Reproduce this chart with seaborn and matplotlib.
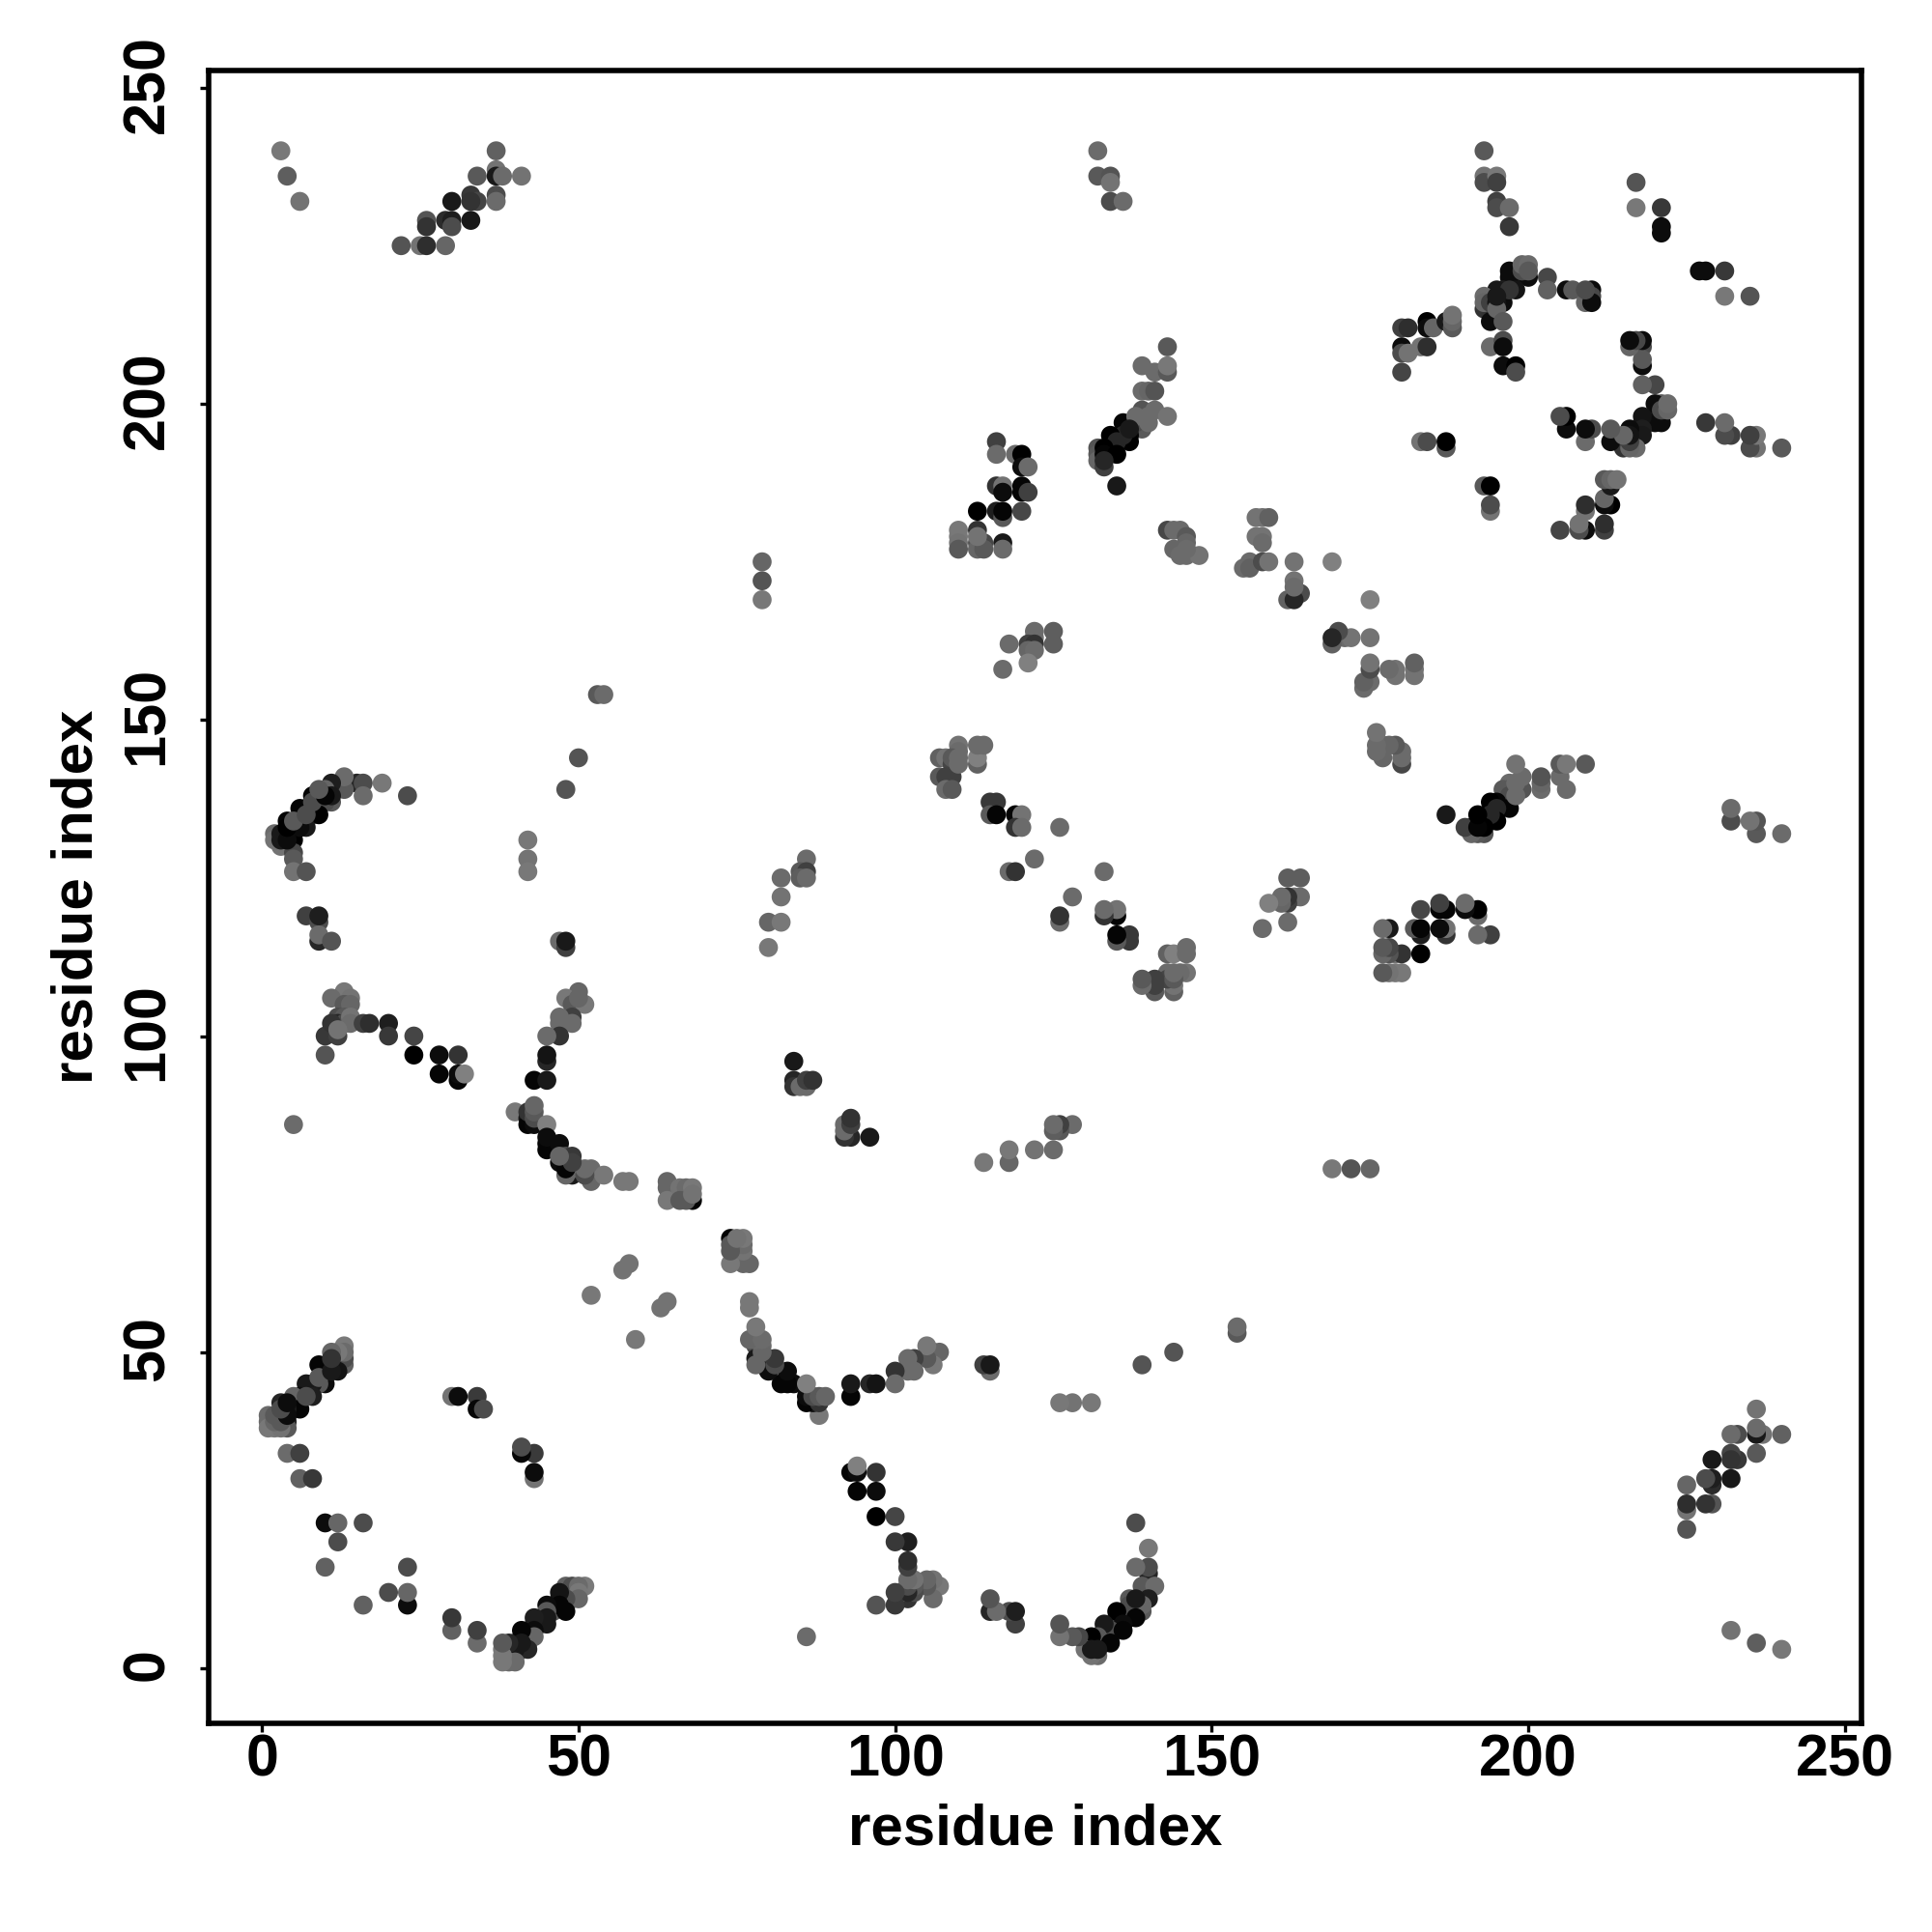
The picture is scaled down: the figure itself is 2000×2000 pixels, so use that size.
import numpy as np
import pandas as pd
import seaborn as sns
import matplotlib
matplotlib.use("Agg")
import matplotlib.pyplot as plt
from matplotlib.transforms import ScaledTranslation

# contacts: (residue i, residue j, grey score 0=black .. 0.5=mid grey)
far_top_left = [(3,240,.47),(4,236,.37),(6,232,.45),(37,240,.38),(34,236,.35),(37,237,.45),(37,236,.1),(38,236,.42),(41,236,.45),
    (37,233,.3),(37,232,.42),(33,233,.22),(34,232,.27),(33,232,.2),(30,232,.1),(26,229,.33),(26,228,.2),(29,229,.17),(30,229,.12),
    (30,228,.3),(33,229,.1),(22,225,.33),(25,225,.45),(26,225,.18),(29,225,.4),(79,175,.4),(79,172,.33),(79,169,.47)]
top_mid_a = [(132,240,.42),(132,236,.35),(134,236,.33),(134,235,.45),(134,232,.3),(136,232,.42)]
helix_135_200 = [(143,209,.35),(139,206,.42),(141,205,.42),(143,205,.35),(143,206,.47),(139,202,.42),(140,202,.4),(141,202,.33),
    (139,197,.15),(139,196,.35),(138,197,.3),(136,197,.02),(137,195,.02),(137,194,.0),(136,195,.15),(134,195,.0),(135,194,.15),
    (132,193,.33),(132,192,.35),(132,191,.4),(133,190,.25),(133,193,.0),(133,192,.02),(135,192,.0),(135,187,.1),
    (139,199,.33),(138,198,.42),(140,198,.42),(141,199,.42),(143,198,.45)]
block_116_190 = [(116,194,.25),(116,192,.42),(119,192,.42),(120,192,.0),(120,190,.05),(121,190,.42),(116,187,.2),(117,187,.45),
    (117,186,.05),(120,187,.02),(120,186,.02),(121,186,.25),(113,183,.0),(116,183,.12),(117,182,.35),(117,183,.02),(120,183,.28),
    (110,180,.47),(110,179,.47),(110,178,.45),(110,177,.35),(113,180,.2),(113,178,.33),(113,177,.4),(114,178,.28),(114,177,.35),
    (117,178,.1),(117,177,.42)]
block_145_178 = [(143,180,.28),(144,180,.42),(145,180,.42),(146,179,.35),(146,178,.4),(144,177,.4),(145,176,.42),(146,176,.42),
    (148,176,.45),(157,182,.45),(158,182,.45),(159,182,.38),(157,179,.45),(158,179,.45),(158,178,.42),(155,174,.42),(156,175,.42),
    (156,174,.38),(158,175,.3),(159,175,.45),(163,175,.45),(163,172,.45),(164,170,.3),(162,169,.38),(163,169,.15),(169,175,.5)]
top_right_a = [(193,240,.35),(193,236,.45),(193,235,.3),(195,236,.47),(195,235,.25),(195,232,.25),(195,231,.3),(197,231,.42),
    (197,228,.22),(217,235,.33),(217,231,.47),(221,231,.22),(221,228,.05),(221,227,.05),(227,221,.1),(228,221,.08),(231,221,.22),
    (231,217,.45),(235,217,.3)]
ring_top = [(197,221,.05),(198,220,.1),(197,220,.05),(200,220,.05),(199,221,.3),(199,222,.4),(200,222,.42),(203,220,.28),(203,218,.38),
    (206,218,.05),(207,218,.35),(209,216,.4),(210,218,.05),(210,217,.28),(210,216,.05),(198,218,.08),(196,218,.12),(195,218,.1),
    (193,217,.42),(193,215,.2),(193,216,.4),(194,216,.25),(196,216,.05),(195,216,.08),(194,213,.05),(195,215,.4),(196,213,.35),
    (194,209,.42),(196,210,.3),(196,209,.05),(196,206,.05),(198,206,.0),(198,205,.3)]
ring_left = [(180,212,.25),(181,212,.18),(180,209,.05),(180,208,.3),(181,208,.45),(183,209,.45),(184,209,.18),(180,205,.27),(184,213,.0),
    (184,212,.05),(185,212,.4),(187,213,.1),(188,212,.35),(188,213,.4),(188,214,.45),(183,194,.45),(184,194,.3),(187,193,.35),(187,194,.0),
    (193,187,.35),(194,187,.0),(194,183,.45),(194,184,.32)]
ring_right = [(216,209,.4),(216,210,.05),(217,210,.12),(218,209,.3),(218,210,.05),(218,206,.05),(218,207,.33),(218,203,.35),(220,203,.3),
    (221,197,.02),(220,198,.1),(220,200,.08),(221,200,.35),(222,199,.35),(222,200,.33),(218,197,.2),(218,198,.08),(205,198,.42),(206,198,.0),
    (206,196,.02),(209,194,.42),(209,196,.08),(210,196,.3),(213,194,.05),(213,196,.38),(215,193,.1),(216,193,.1),(217,193,.42),(216,196,.05),
    (216,194,.25),(217,195,.1),(218,195,.15),(228,197,.25),(231,197,.45),(231,195,.33),(232,195,.25),(235,193,.4),(236,193,.42),(235,195,.3),
    (236,195,.45),(240,193,.38)]
ring_bottom = [(213,187,.1),(212,188,.42),(213,188,.3),(214,188,.42),(212,185,.45),(212,184,.05),(213,184,.02),(209,183,.42),(209,184,.12),
    (205,180,.28),(208,181,.45),(208,180,.4),(209,180,.05),(212,180,.25),(212,181,.2)]
strand_54_140 = [(53,154,.35),(54,154,.42),(50,144,.33),(48,139,.33),(42,131,.47),(42,128,.45),(42,126,.47),(47,115,.42),(48,114,.25),(48,115,.1)]
helix_5_135 = [(23,138,.3),(19,140,.47),(15,140,.15),(16,140,.3),(16,138,.42),(13,139,.35),(13,141,.42),(11,137,.35),(11,140,.12),(10,139,.4),
    (10,137,.3),(11,138,.1),(8,135,.35),(9,135,.0),(8,138,.02),(7,136,.05),(6,134,.3),(6,136,.02),(7,133,.1),(5,132,.35),(5,131,.0),(4,134,.02),
    (2,132,.42),(2,131,.45),(3,130,.45),(3,132,.1),(3,131,.1),(5,129,.28),(5,128,.35),(5,126,.45),(7,126,.33),(7,119,.25),(9,118,.3),(9,119,.12),
    (9,115,.15),(9,116,.42),(11,115,.33)]
cluster_13_104 = [(13,107,.47),(11,106,.42),(14,106,.45),(13,105,.35),(14,105,.4),(12,103,.3),(13,103,.35),(12,102,.15),(13,102,.3),(14,103,.45),
    (14,102,.42),(16,102,.25),(17,102,.18),(20,102,.12),(20,100,.22),(24,100,.27),(24,97,.0),(10,100,.22),(12,100,.25),(10,97,.33),(28,97,.05),
    (31,97,.2),(28,94,.02),(31,93,.02),(31,94,.05),(32,94,.5),(5,86,.42)]
arc_45_100 = [(50,107,.4),(48,106,.47),(49,105,.35),(51,105,.47),(49,103,.25),(47,103,.42),(49,102,.42),(47,102,.42),(47,100,.2),(45,100,.42),
    (45,96,.15),(45,97,.08),(43,93,.02),(45,93,.1),(40,88,.47),(42,87,.08),(42,86,.02),(43,86,.05),(42,88,.2),(43,87,.3),(43,88,.35),(43,89,.4),
    (45,86,.5),(45,83,.02),(45,82,.02),(47,83,.05),(47,80,.05),(48,81,.3),(49,81,.22),(49,78,.1),(48,78,.4),(50,79,.4),(52,78,.42),(52,77,.4),(52,79,.42),
    (54,78,.47),(57,77,.47),(58,77,.47)]
arc_64_78 = [(64,77,.4),(64,76,.4),(64,74,.47),(66,76,.45),(67,76,.42),(68,74,.02),(66,74,.35),(67,74,.35),(68,76,.47),(68,75,.45),(74,68,.02),
    (75,68,.47),(76,68,.47),(74,66,.35),(74,64,.47),(76,66,.5),(76,64,.42),(77,64,.35),(58,64,.45),(57,63,.45),(52,59,.47),(64,58,.47),(63,57,.47),
    (59,52,.47),(77,57,.42),(77,58,.47),(78,54,.47),(77,52,.42),(78,51,.3)]
arc_80_107 = [(79,52,.4),(79,51,.42),(79,48,.02),(80,49,.25),(81,49,.25),(80,47,.02),(81,47,.4),(83,47,.08),(82,45,.1),(84,45,.05),(83,45,.02),
    (86,45,.45),(86,42,.05),(86,43,.1),(87,43,.35),(88,42,.15),(88,40,.47),(88,43,.32),(89,43,.4),(93,43,.02),(93,45,.05),(96,45,.18),(97,45,.12),
    (100,47,.22),(100,45,.45),(102,49,.47),(103,49,.35),(102,47,.47),(103,47,.45),(105,49,.4),(105,51,.47),(106,48,.47),(106,50,.4),(107,50,.4),
    (114,48,.3),(115,47,.38),(115,48,.1),(126,42,.47),(128,42,.45),(131,42,.47),(139,48,.33),(144,50,.35),(154,53,.3),(154,54,.47)]
block_97_20 = [(93,31,.02),(94,31,.02),(94,32,.5),(97,31,.18),(94,28,.02),(97,28,.02),(97,24,.0),(100,24,.3),(100,20,.25),(102,20,.12),(102,16,.2),
    (102,17,.13),(102,14,.35),(103,14,.4),(105,14,.35),(106,14,.47),(103,13,.4),(107,13,.42),(102,12,.3),(103,12,.3),(102,11,.2),(106,11,.45),
    (100,12,.25),(101,12,.45),(100,10,.27),(97,10,.38),(86,5,.42)]
helix_135_8 = [(115,11,.33),(115,9,.1),(116,9,.47),(118,9,.35),(119,7,.2),(119,9,.15),(126,7,.3),(126,5,.38),(128,5,.42),(129,5,.3),(130,3,.42),
    (131,2,.4),(132,2,.3),(131,3,.1),(132,3,.1),(131,4,.05),(133,7,.05),(133,6,.05),(133,4,.0),(134,4,.0),(134,5,.35),(135,7,.3),(135,9,.0),(136,6,.0),
    (137,8,.3),(138,8,.02),(137,11,.4),(138,10,.02),(139,9,.35),(140,11,.2),(139,13,.35),(141,13,.42),(140,15,.15),(140,16,.3),(138,16,.45),(140,19,.45),
    (138,23,.27)]
helix_5_45 = [(13,48,.38),(13,49,.3),(13,51,.48),(13,50,.42),(12,50,.47),(11,50,.4),(11,48,.3),(12,47,.08),(9,48,.02),(10,47,.02),(10,45,.05),(9,45,.35),
    (8,45,.1),(7,45,.1),(8,43,.12),(6,43,.05),(5,43,.4),(6,41,.02),(3,42,.15),(4,41,.1),(3,40,.1),(4,39,.15),(1,40,.42),(1,39,.42),(1,38,.47),(2,38,.47),
    (4,38,.35),(4,34,.42),(6,34,.25),(6,30,.38),(8,30,.22)]
scatter_10_35 = [(10,23,.05),(12,23,.4),(16,23,.3),(12,20,.3),(10,16,.38),(23,16,.33),(20,12,.33),(23,10,.02),(23,12,.42),(16,10,.37),(30,8,.22),(30,6,.37),
    (34,6,.23),(34,4,.38),(30,43,.45),(31,43,.05),(34,43,.23),(34,41,.03),(35,41,.3),(41,34,.1),(41,35,.33),(43,34,.22),(43,30,.42),(43,31,.05)]
helix_38_13 = [(38,1,.47),(38,2,.47),(38,3,.45),(38,4,.38),(39,2,.4),(40,1,.42),(40,2,.35),(39,3,.35),(40,3,.1),(40,4,.05),(41,3,.3),(42,3,.2),(41,6,.02),
    (42,4,.05),(43,5,.25),(43,7,.3),(43,8,.1),(45,7,.25),(45,10,.08),(46,9,.35),(47,12,.02),(47,11,.1),(48,9,.1),(49,11,.2),(48,13,.4),(49,13,.3),(50,12,.42),
    (50,13,.35),(51,13,.47)]
block_122_162 = [(122,163,.45),(122,164,.42),(125,164,.37),(125,162,.37),(118,162,.42),(121,162,.25),(122,162,.2),(121,161,.4),(122,161,.42),(121,159,.5),(117,158,.42)]
block_110_145 = [(110,146,.45),(110,145,.42),(113,143,.38),(113,144,.5),(113,146,.42),(114,146,.42),(107,144,.38),(108,144,.45),(109,143,.27),(109,144,.35),
    (110,144,.42),(107,141,.35),(108,141,.25),(109,141,.25),(108,139,.42),(109,139,.35)]
diagonal_115_135 = [(115,137,.22),(116,137,.22),(115,135,.35),(116,135,.02),(119,135,.02),(120,135,.45),(119,133,.2),(120,133,.42),(126,133,.42),(122,128,.42),
    (118,126,.42),(119,126,.2),(133,126,.42),(128,122,.42),(126,118,.4),(126,119,.22),(133,119,.2),(133,120,.42),(135,119,.0),(135,120,.5),(135,115,.3),(135,116,.02),
    (137,115,.22),(137,116,.22)]
block_143_110 = [(143,113,.35),(144,113,.45),(146,114,.42),(146,113,.33),(139,108,.42),(139,109,.33),(141,107,.3),(141,108,.22),(141,109,.2),(144,107,.35),(144,108,.42),
    (143,110,.42),(144,109,.33),(145,110,.42),(146,110,.42)]
block_162_122 = [(162,125,.35),(164,125,.35),(159,121,.47),(161,121,.42),(162,121,.2),(162,122,.2),(164,122,.42),(158,117,.4),(162,118,.38),
    (86,128,.42),(85,126,.35),(86,126,.25),(85,125,.37),(86,125,.42),(82,125,.42),(82,122,.45),(80,118,.4),(82,118,.47),(80,114,.47)]
block_84_93 = [(84,96,.1),(84,93,.15),(84,92,.2),(85,92,.42),(86,92,.42),(86,93,.25),(87,93,.2),(93,87,.22),(92,86,.4),(93,86,.22),(92,84,.3),(93,84,.18),(96,84,.1),
    (125,85,.33),(126,85,.3),(125,86,.42),(126,86,.28),(128,86,.42),(122,82,.42),(125,82,.42),(118,82,.45),(118,80,.42),(114,80,.47),(169,79,.45),(172,79,.38),(175,79,.45)]
block_170_160 = [(169,163,.22),(169,162,.33),(170,164,.3),(171,163,.42),(172,163,.47),(175,163,.47),(175,159,.47),(175,158,.38),(175,156,.42),(174,156,.4),(174,155,.45),
    (178,158,.47),(179,158,.47),(179,157,.47),(182,159,.42),(182,158,.42),(182,157,.45)]
block_178_145 = [(176,148,.47),(176,146,.45),(176,145,.42),(177,144,.45),(177,146,.42),(178,146,.42),(179,146,.35),(180,143,.3),(180,144,.42),(180,145,.42)]
helix_195_135 = [(187,135,.12),(190,133,.35),(191,132,.42),(192,132,.35),(193,132,.3),(191,133,.15),(192,133,.02),(193,133,.02),(192,135,.02),(194,135,.05),(195,134,.02),
    (194,137,.02),(196,137,.1),(197,136,.08),(196,139,.38),(198,138,.45),(199,139,.3),(197,140,.42),(198,140,.45),(198,143,.47),(199,141,.45),(202,139,.4),(202,141,.35),
    (205,141,.47),(206,139,.47),(205,143,.4),(206,143,.47),(209,143,.38)]
block_185_117 = [(183,120,.33),(186,121,.25),(186,120,.02),(187,120,.0),(190,120,.05),(190,121,.42),(192,119,.47),(192,120,.02),(177,117,.45),(178,117,.1),(182,117,.42),
    (183,116,.1),(183,117,.02),(186,117,.08),(187,116,.27),(187,117,.47),(192,116,.42),(194,116,.25),(177,114,.38),(178,114,.33),(177,113,.38),(178,113,.35),(179,113,.45),
    (180,113,.18),(183,113,.0),(177,110,.42),(178,110,.47),(179,110,.47),(180,110,.47)]
far_right = [(232,136,.42),(232,134,.28),(235,134,.45),(236,134,.3),(236,132,.33),(240,132,.45)]

groups = [far_top_left, top_mid_a, helix_135_200, block_116_190, block_145_178, top_right_a, ring_top, ring_left,
          ring_right, ring_bottom, strand_54_140, helix_5_135, cluster_13_104, arc_45_100, arc_64_78, arc_80_107,
          block_97_20, helix_135_8, helix_5_45, scatter_10_35, helix_38_13, block_122_162, block_110_145,
          diagonal_115_135, block_143_110, block_162_122, block_84_93, block_170_160, block_178_145, helix_195_135,
          block_185_117, far_right]

tick_values = [0, 50, 100, 150, 200, 250]
axis_label = "residue index"

# the contact map is symmetric: every contact appears at (i, j) and at (j, i)
half = pd.DataFrame([row for g in groups for row in g], columns=["i", "j", "score"])
half["lo"] = half[["i", "j"]].min(axis=1)
half["hi"] = half[["i", "j"]].max(axis=1)
half = half.drop_duplicates(["lo", "hi"])
df = pd.concat([half[["i", "j", "score"]],
                half.rename(columns={"i": "j", "j": "i"})[["i", "j", "score"]]], ignore_index=True)

sns.set_theme(style="white")
plt.rcParams["font.family"] = ["Liberation Sans", "DejaVu Sans"]
plt.rcParams["font.weight"] = "bold"

fig = plt.figure(figsize=(10, 10), dpi=200)
ax = fig.add_axes([216/2000, 1-1784/2000, (1927-216)/2000, (1784-73)/2000])
sns.scatterplot(data=df, x="i", y="j", hue="score", palette="gray", hue_norm=(0, 1),
                s=50, linewidth=0, legend=False, ax=ax)

ax.set_xlim(-8.4, 252.6)
ax.set_ylim(-8.7, 252.7)
ax.set_xticks(tick_values)
ax.set_yticks(tick_values)
ax.tick_params(axis="x", length=3.2, width=1.2, color="black", labelsize=22, labelcolor="black", bottom=True, pad=0.5)
ax.tick_params(axis="y", length=3.2, width=1.2, color="black", labelsize=22, labelcolor="black", left=True, pad=9)
up = ScaledTranslation(0, 4/200, fig.dpi_scale_trans)
for t in ax.get_yticklabels():
    t.set_rotation(90)
    t.set_va("center")
    t.set_fontweight("bold")
    t.set_transform(t.get_transform() + up)
for t in ax.get_xticklabels():
    t.set_fontweight("bold")
ax.set_xlabel(axis_label, fontsize=21.6, fontweight="bold", color="black", va="center")
ax.set_ylabel(axis_label, fontsize=21.6, fontweight="bold", color="black", va="center")
ax.xaxis.set_label_coords(0.5, -0.0645)
ax.yaxis.set_label_coords(-0.0795, 0.5)
for s in ax.spines.values():
    s.set_visible(True)
    s.set_linewidth(2.0)
    s.set_color("black")

fig.savefig("out.png", dpi=200, facecolor="white")
